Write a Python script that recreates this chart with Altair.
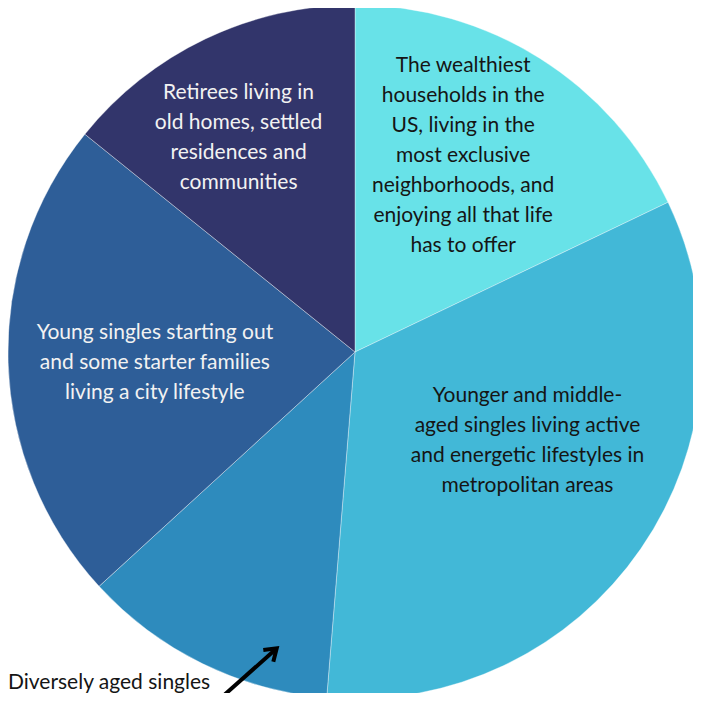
import altair as alt
import pandas as pd

# ---- data ----
segments = ["Wealthiest households", "Young urban singles", "Diversely aged singles",
            "City starters", "Retirees"]
shares = [17.9, 33.4, 11.9, 22.6, 14.2]
colors = ["#68E2E8", "#42B8D7", "#2E8BBD", "#2E5E98", "#32356B"]
labels = [
    "The wealthiest\nhouseholds in the\nUS, living in the\nmost exclusive\nneighborhoods, and\nenjoying all that life\nhas to offer",
    "Younger and middle-\naged singles living active\nand energetic lifestyles in\nmetropolitan areas",
    "",
    "Young singles starting out\nand some starter families\nliving a city lifestyle",
    "Retirees living in\nold homes, settled\nresidences and\ncommunities",
]
label_tone = ["dark", "dark", "none", "light", "light"]
# label placement (polar, relative to pie centre; first text line)
label_angle_deg = [20.7, 104.3, 0.0, 275.4, 335.8]
label_radius = [306, 178, 0, 201, 284]

outside_label = "Diversely aged singles"
# arrow annotation (pixel frame of the chart)
arrow_x = [208.7, 267.7, 255.3, 268.7, 265.3]
arrow_y = [693.7, 641.3, 642.0, 640.3, 653.7]
arrow_part = ["shaft", "shaft", "head", "head", "head"]

W = H = 685
CX, CY, R = 347, 344, 347
FONT = "Lato"

df = pd.DataFrame({
    "segment": segments, "share": shares, "idx": list(range(len(segments))),
    "label": labels, "tone": label_tone,
    "ang": [a * 3.141592653589793 / 180 for a in label_angle_deg],
    "r": label_radius,
})
arrow_df = pd.DataFrame({"x": arrow_x, "y": arrow_y, "part": arrow_part,
                         "o": list(range(len(arrow_x)))})
outside_df = pd.DataFrame({"label": [outside_label], "x": [0], "y": [675]})

pie = alt.Chart(df).mark_arc(radius=R, stroke="#ffffff", strokeWidth=0.6,
                             strokeOpacity=0.6).encode(
    theta=alt.Theta("share:Q", stack=True),
    order=alt.Order("idx:Q"),
    color=alt.Color("segment:N", scale=alt.Scale(domain=segments, range=colors),
                    legend=None),
    x=alt.value(CX), y=alt.value(CY),
)

def label_layer(tone, col):
    return alt.Chart(df).transform_filter(alt.datum.tone == tone).mark_text(
        font=FONT, fontSize=21, lineHeight=30, lineBreak="\n",
        align="center", baseline="middle", color=col,
    ).encode(
        theta=alt.Theta("ang:Q", scale=None, stack=False),
        radius=alt.Radius("r:Q", scale=None),
        text="label:N",
        x=alt.value(CX), y=alt.value(CY),
    )

dark = label_layer("dark", "#151515")
light = label_layer("light", "#F2F2F2")

xs = alt.Scale(domain=[0, W])
ys = alt.Scale(domain=[0, H], reverse=True)

arrow = alt.Chart(arrow_df).mark_line(color="#000000", strokeWidth=4,
                                      strokeCap="butt", strokeJoin="miter").encode(
    x=alt.X("x:Q", scale=xs, axis=None),
    y=alt.Y("y:Q", scale=ys, axis=None),
    detail="part:N",
    order="o:Q",
)

outside = alt.Chart(outside_df).mark_text(
    font=FONT, fontSize=21, align="left", baseline="middle", color="#151515"
).encode(
    x=alt.X("x:Q", scale=xs, axis=None),
    y=alt.Y("y:Q", scale=ys, axis=None),
    text="label:N",
)

chart = alt.layer(pie, dark, light, arrow, outside).resolve_scale(
    theta="independent", radius="independent"
).properties(
    width=W, height=H, padding=0, autosize=alt.AutoSizeParams(type="none")
).configure_view(stroke=None)

chart.save("out.html", embed_options={"renderer": "svg", "actions": False})
